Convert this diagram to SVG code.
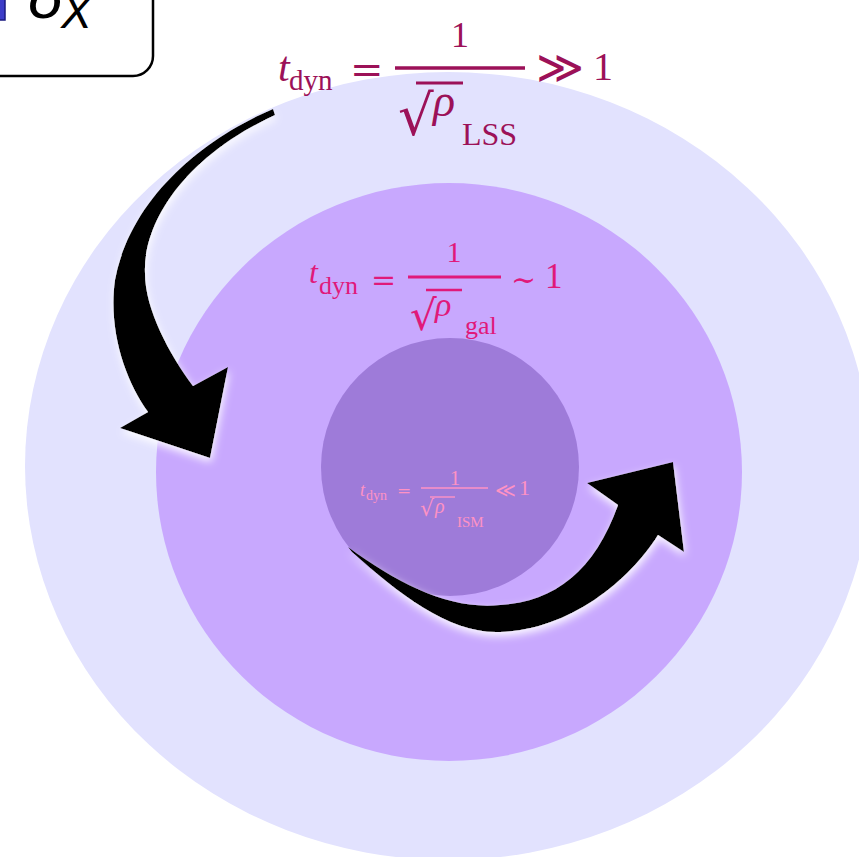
<svg xmlns="http://www.w3.org/2000/svg" width="859" height="857" viewBox="0 0 859 857">
<defs>
<style>
.m{font-family:"Liberation Serif","Times New Roman",serif}
.it{font-family:"Liberation Serif","Times New Roman",serif;font-style:italic}
.s{font-family:"DejaVu Serif",serif}
.f1{fill:#9C1158}
.f2{fill:#E0197A}
.f3{fill:#FF92C4}
.arrow{fill:#000;filter:url(#glow)}
</style>
<filter id="glow" x="-20%" y="-20%" width="140%" height="140%">
<feDropShadow dx="1" dy="4" stdDeviation="4" flood-color="#ffffff" flood-opacity="0.95"/>
</filter>
</defs>
<rect width="859" height="857" fill="#ffffff"/>
<g id="box">
<rect x="-60" y="-60" width="213" height="136" rx="20" fill="#ffffff" stroke="#000" stroke-width="2.5"/>
<rect x="-10" y="-10" width="15" height="30" fill="#3c3cc8" stroke="#1a1a80" stroke-width="1.5"/>
<text x="28" y="18" font-family="'Liberation Sans',Arial,sans-serif" font-style="italic" font-size="62" fill="#000">δ</text>
<text x="61" y="28" font-family="'Liberation Sans',Arial,sans-serif" font-style="italic" font-size="46" fill="#000">X</text>
</g>
<g id="lss">
<ellipse cx="448" cy="466" rx="423" ry="394" fill="#E2E2FE"/>
</g>
<g id="gal">
<ellipse cx="449" cy="472" rx="293" ry="289" fill="#C8A8FE"/>
</g>
<g id="ism">
<circle cx="450" cy="467" r="129" fill="#9E7BD9"/>
</g>
<g id="eq-lss" class="f1">
<text class="it" x="278" y="81" font-size="42">t</text>
<text class="m" x="289" y="90" font-size="29">dyn</text>
<text class="s" x="350" y="83" font-size="40">=</text>
<line x1="395" y1="68" x2="525" y2="68" stroke="#9C1158" stroke-width="3.5"/>
<text class="m" x="460" y="47" font-size="36" text-anchor="middle">1</text>
<text class="s" x="536" y="83" font-size="46">≫</text>
<text class="m" x="593" y="80" font-size="40">1</text>
<text class="s" x="398" y="135" font-size="56">√</text>
<line x1="416" y1="83" x2="463" y2="83" stroke="#9C1158" stroke-width="3"/>
<text class="it" x="433" y="116" font-size="46">ρ</text>
<text class="m" x="462" y="145" font-size="32">LSS</text>
</g>
<g id="eq-gal" class="f2">
<text class="it" x="309" y="283" font-size="32">t</text>
<text class="m" x="319" y="294" font-size="26">dyn</text>
<text class="s" x="371" y="290" font-size="30">=</text>
<line x1="408" y1="277" x2="501" y2="277" stroke="#E0197A" stroke-width="2.8"/>
<text class="m" x="454" y="262" font-size="30" text-anchor="middle">1</text>
<text class="s" x="511" y="290" font-size="30">∼</text>
<text class="m" x="545" y="288" font-size="35">1</text>
<text class="s" x="410" y="330" font-size="42">√</text>
<line x1="426" y1="290" x2="462" y2="290" stroke="#E0197A" stroke-width="2.4"/>
<text class="it" x="435" y="316" font-size="34">ρ</text>
<text class="m" x="465" y="334" font-size="26">gal</text>
</g>
<g id="eq-ism" class="f3">
<text class="it" x="360" y="496" font-size="18">t</text>
<text class="m" x="366" y="500" font-size="14">dyn</text>
<text class="s" x="397" y="496" font-size="17">=</text>
<line x1="421" y1="488" x2="488" y2="488" stroke="#FF92C4" stroke-width="1.6"/>
<text class="m" x="455" y="485" font-size="21" text-anchor="middle">1</text>
<text class="s" x="495" y="497" font-size="20">≪</text>
<text class="m" x="519" y="495" font-size="22">1</text>
<text class="s" x="420" y="516" font-size="22">√</text>
<line x1="430" y1="497" x2="455" y2="497" stroke="#FF92C4" stroke-width="1.4"/>
<text class="it" x="435" y="513" font-size="20">ρ</text>
<text class="m" x="457" y="527" font-size="15">ISM</text>
</g>
<g id="connectors">
<path id="arrow-in" class="arrow" d="M273,109 C200,140 130,200 115,280 C108,330 125,380 148,412 L120,428 L210,458 L228,367 L193,386 C170,355 145,310 145,273 C143,228 178,160 275,115 Z"/>
<path id="arrow-out" class="arrow" d="M348,547 C400,585 450,610 500,605 C555,602 595,570 618,505 L587,483 L673,462 L684,552 L658,535 C630,580 570,630 500,632 C450,634 400,595 352,552 Z"/>
</g>
</svg>
